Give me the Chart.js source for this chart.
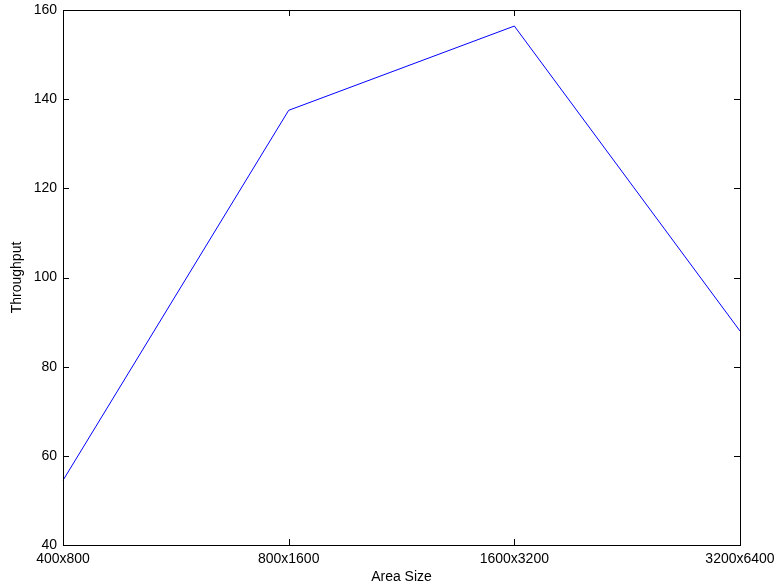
<!DOCTYPE html>
<html>
<head>
<meta charset="utf-8">
<script src="https://cdn.jsdelivr.net/npm/chart.js@4/dist/chart.umd.min.js"></script>
<style>
  html, body { margin: 0; padding: 0; background: #fff; }
  #wrap { width: 778px; height: 587px; }
</style>
</head>
<body>
<div id="wrap"><canvas id="chart" width="778" height="587"></canvas></div>
<script>
// Categories on the x axis
const areaSizes = ['400x800', '800x1600', '1600x3200', '3200x6400'];
// Throughput values
const throughput = [54.5, 137.5, 156.4, 88.0];
// Y axis range
const yMin = 40;
const yMax = 160;
const yStep = 20;

// Frame around the plot with ticks pointing inward (matlab style)
const framePlugin = {
  id: 'frame',
  afterDraw(chart) {
    const ctx = chart.ctx;
    const a = chart.chartArea;
    const xs = chart.scales.x;
    const ys = chart.scales.y;
    const len = 6;
    ctx.save();
    ctx.strokeStyle = '#000';
    ctx.lineWidth = 1;
    ctx.beginPath();
    xs.ticks.forEach((t, i) => {
      const x = Math.round(xs.getPixelForTick(i)) + 0.5;
      ctx.moveTo(x, a.bottom);
      ctx.lineTo(x, a.bottom - len);
      ctx.moveTo(x, a.top);
      ctx.lineTo(x, a.top + len);
    });
    ys.ticks.forEach((t, i) => {
      const y = Math.round(ys.getPixelForTick(i)) + 0.5;
      ctx.moveTo(a.left, y);
      ctx.lineTo(a.left + len, y);
      ctx.moveTo(a.right, y);
      ctx.lineTo(a.right - len, y);
    });
    ctx.stroke();
    ctx.strokeRect(Math.round(a.left) + 0.5, Math.round(a.top) + 0.5,
      Math.round(a.right - a.left), Math.round(a.bottom - a.top));
    ctx.restore();
  }
};

const font = { family: '"Liberation Sans", Arial, Helvetica, sans-serif', size: 14 };

new Chart(document.getElementById('chart'), {
  type: 'line',
  data: {
    labels: areaSizes,
    datasets: [{
      label: 'Throughput',
      data: throughput,
      borderColor: '#0000ff',
      backgroundColor: '#0000ff',
      borderWidth: 1,
      pointRadius: 0,
      tension: 0,
      fill: false
    }]
  },
  options: {
    responsive: false,
    animation: false,
    layout: { padding: { top: 10, right: 38, left: 9, bottom: 0 } },
    plugins: {
      legend: { display: false },
      tooltip: { enabled: false }
    },
    scales: {
      x: {
        type: 'category',
        offset: false,
        grid: { display: false, drawTicks: false },
        border: { display: false },
        ticks: { color: '#000', font: font, padding: 6, maxRotation: 0, autoSkip: false },
        title: { display: true, text: 'Area Size', color: '#000', font: font, padding: { top: 0, bottom: 1 } },
        afterFit(scale) {
          scale.height = 42;
          scale.paddingLeft = 0;
          scale.paddingRight = 0;
        }
      },
      y: {
        min: yMin,
        max: yMax,
        grid: { display: false, drawTicks: false },
        border: { display: false },
        ticks: { stepSize: yStep, color: '#000', font: font, padding: 6 },
        title: { display: true, text: 'Throughput', color: '#000', font: font, padding: { top: 0, bottom: 0 } },
        afterFit(scale) {
          scale.width = 54;
          scale.paddingTop = 0;
          scale.paddingBottom = 0;
        }
      }
    }
  },
  plugins: [framePlugin]
});
</script>
</body>
</html>
